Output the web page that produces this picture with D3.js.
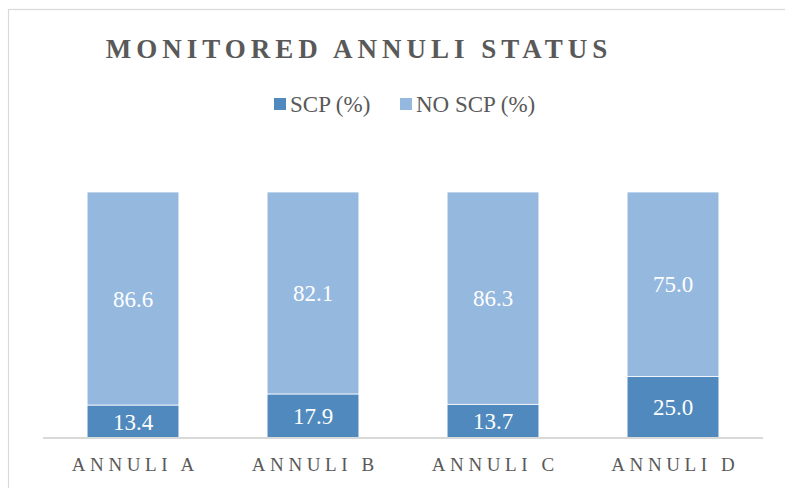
<!DOCTYPE html>
<html><head><meta charset="utf-8">
<script src="https://cdn.jsdelivr.net/npm/d3@7"></script>
<style>body{margin:0;background:#fff}svg{display:block}</style>
</head><body>
<script>
const categories = ["ANNULI A","ANNULI B","ANNULI C","ANNULI D"];
const scp = [13.4, 17.9, 13.7, 25.0];
const noScp = [86.6, 82.1, 86.3, 75.0];
const seriesNames = ["SCP (%)", "NO SCP (%)"];
const colors = ["#4F89BD", "#95B8DF"];

const W = 785, H = 488;
const FONT = "'Liberation Serif', 'Times New Roman', serif";
const svg = d3.select("body").append("svg").attr("width", W).attr("height", H);
svg.append("rect").attr("x", 8.5).attr("y", 9.5).attr("width", W).attr("height", H)
  .attr("fill", "#fff").attr("stroke", "#d9d9d9").attr("stroke-width", 1.2);

const plot = {left: 43, right: 763, top: 192, bottom: 438};
const x = d3.scaleBand().domain(categories).range([plot.left, plot.right]).paddingInner(0.49).paddingOuter(0.245);
const y = d3.scaleLinear().domain([0, 100]).range([plot.bottom, plot.top]);

const rows = categories.map((c, i) => ({cat: c, v0: scp[i], v1: noScp[i]}));
const stack = d3.stack().keys(["v0", "v1"])(rows);

const g = svg.append("g");
stack.forEach((layer, li) => {
  g.selectAll(null).data(layer).enter().append("rect")
    .attr("x", d => x(d.data.cat)).attr("width", x.bandwidth())
    .attr("y", d => y(d[1])).attr("height", d => y(d[0]) - y(d[1]))
    .attr("fill", colors[li]).attr("stroke", "#fff").attr("stroke-width", 0.75);
  g.selectAll(null).data(layer).enter().append("text")
    .attr("x", d => x(d.data.cat) + x.bandwidth() / 2)
    .attr("y", d => (y(d[0]) + y(d[1])) / 2)
    .attr("dy", "0.35em").attr("text-anchor", "middle")
    .attr("font-family", FONT).attr("font-size", 23)
    .attr("fill", "#fff")
    .text(d => (d[1] - d[0]).toFixed(1));
});

// axis
const xAxis = svg.append("g").attr("transform", `translate(0,${plot.bottom})`)
  .call(d3.axisBottom(x).tickSize(0).tickPadding(20));
xAxis.select(".domain").attr("stroke", "#d9d9d9").attr("stroke-width", 2).attr("d", `M${plot.left},0H${plot.right}`);
xAxis.selectAll("text").attr("font-family", FONT)
  .attr("font-size", 19).attr("fill", "#595959").attr("letter-spacing", "4.6px")
  .attr("dx", "2.3px");

// title
svg.append("text").attr("x", 359).attr("y", 58).attr("text-anchor", "middle")
  .attr("font-family", FONT).attr("font-weight", "bold")
  .attr("font-size", 27).attr("letter-spacing", "5px").attr("fill", "#595959")
  .text("MONITORED ANNULI STATUS");

// legend
const legendX = [274, 400];
seriesNames.forEach((n, i) => {
  svg.append("rect").attr("x", legendX[i]).attr("y", 98).attr("width", 12).attr("height", 12).attr("fill", colors[i]);
  svg.append("text").attr("x", legendX[i] + 16).attr("y", 112)
    .attr("font-family", FONT).attr("font-size", 23).attr("fill", "#595959")
    .text(n);
});
</script>
</body></html>
